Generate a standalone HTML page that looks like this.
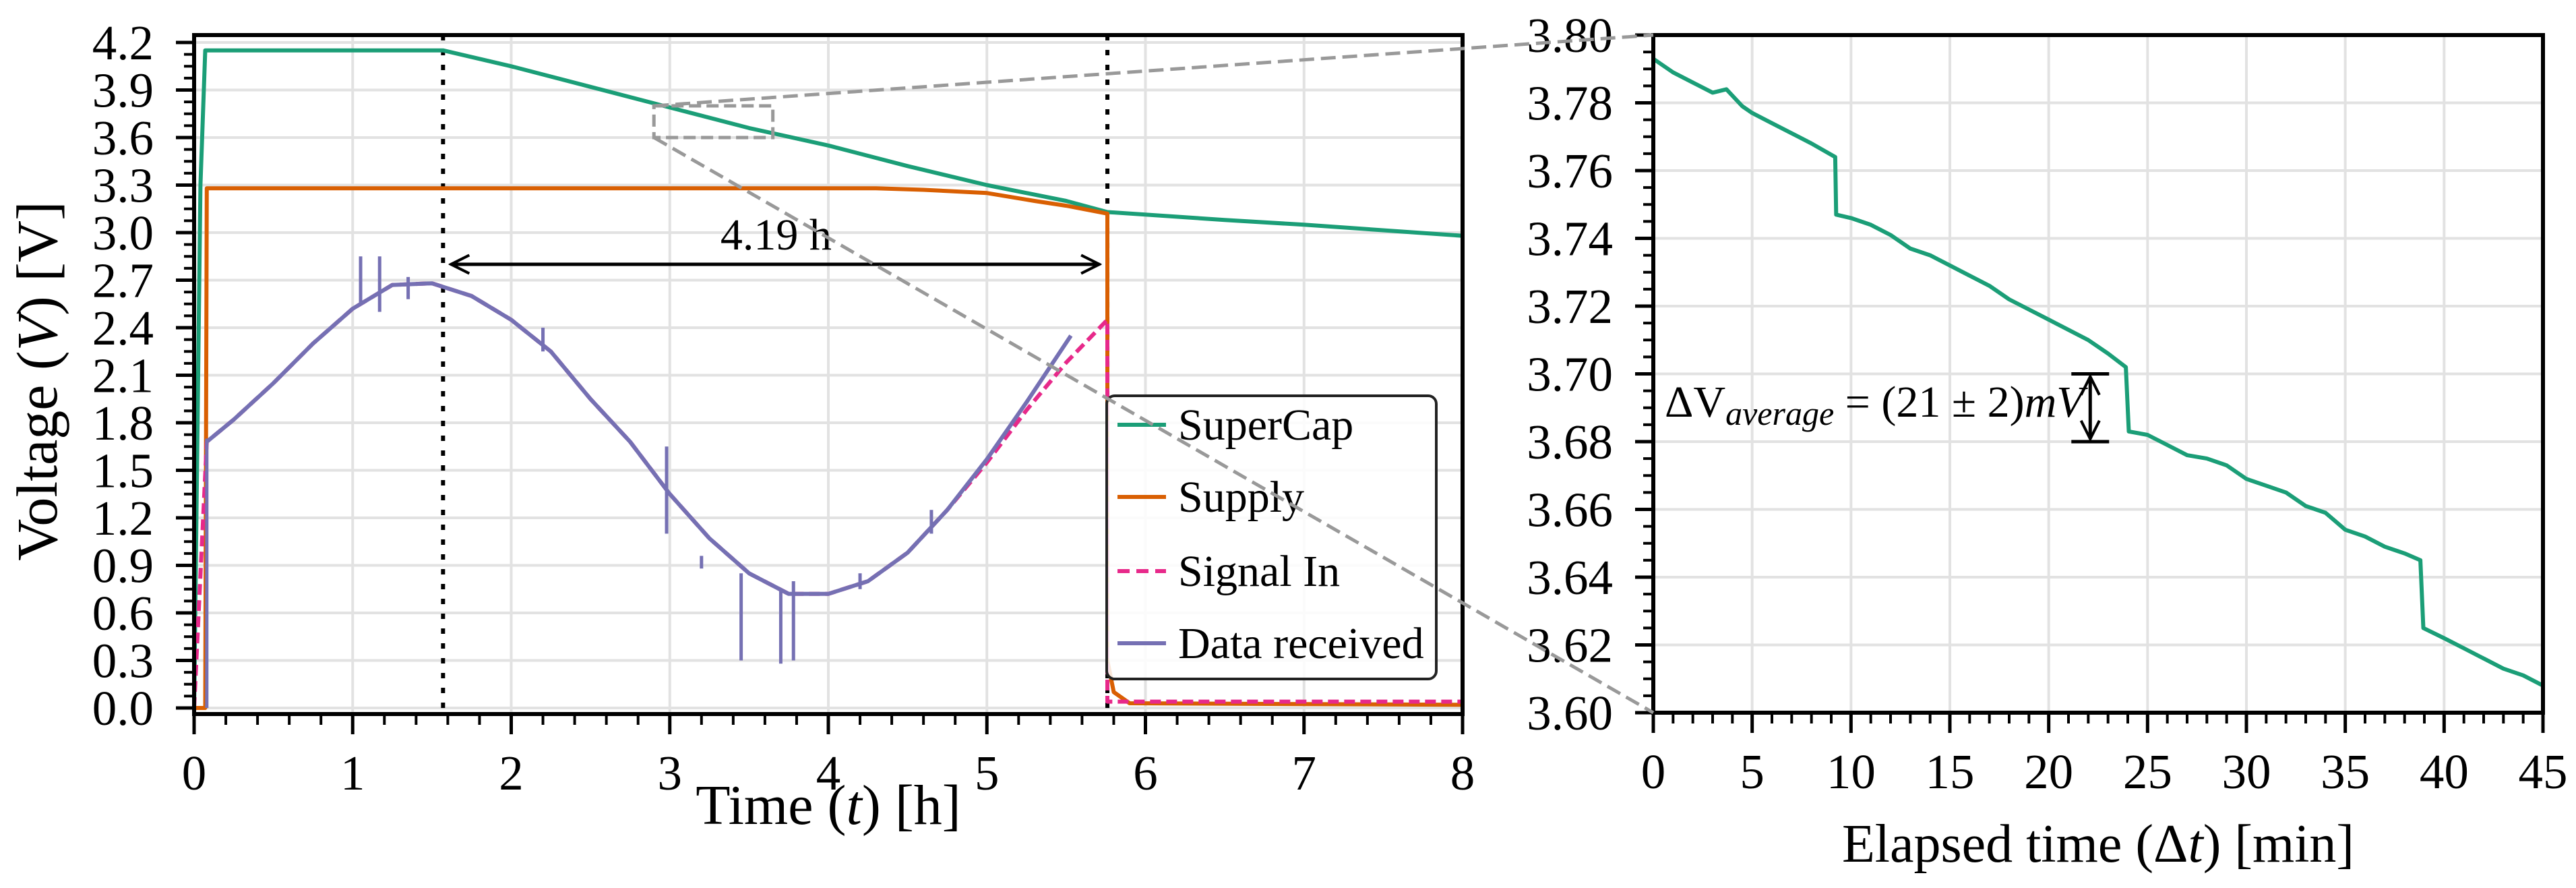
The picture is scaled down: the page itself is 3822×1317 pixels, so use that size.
<!DOCTYPE html>
<html><head><meta charset="utf-8"><style>
html,body{margin:0;padding:0;background:#fff}
svg{display:block;font-family:"Liberation Serif",serif}
</style></head><body>
<svg id="fig" width="3822" height="1317" viewBox="0 0 3822 1317" xmlns="http://www.w3.org/2000/svg">
<g id="left"></g>
<g id="right"></g>
</svg>
<script>
// ---- Left chart data ----
const leftXTicks = [0,1,2,3,4,5,6,7,8];
const leftYTicks = [0.0,0.3,0.6,0.9,1.2,1.5,1.8,2.1,2.4,2.7,3.0,3.3,3.6,3.9,4.2];
const superCapT = [0,0.04,0.07,1.57,2.0,2.5,3.0,3.5,4.0,4.5,5.0,5.5,5.76,6.5,7.0,8.0];
const superCapV = [0,3.3,4.15,4.15,4.05,3.92,3.79,3.66,3.55,3.42,3.30,3.20,3.13,3.08,3.05,2.98];
const supplyT = [0,0.07,0.08,4.3,4.6,5.0,5.3,5.5,5.76,5.76,5.8,5.9,8.0];
const supplyV = [0,0,3.28,3.28,3.27,3.25,3.20,3.17,3.12,0.3,0.1,0.03,0.02];
const signalT = [0,0.08,0.25,0.5,0.75,1.0,1.25,1.5,1.75,2.0,2.25,2.5,2.75,3.0,3.25,3.5,3.75,4.0,4.25,4.5,4.75,5.0,5.25,5.5,5.76,5.76,8.0];
const signalV = [0,1.68,1.82,2.05,2.30,2.52,2.67,2.68,2.60,2.45,2.25,1.95,1.68,1.35,1.07,0.85,0.72,0.72,0.80,0.98,1.25,1.55,1.88,2.18,2.45,0.04,0.04];
const dataT = [0.08,0.25,0.5,0.75,1.0,1.25,1.5,1.75,2.0,2.25,2.5,2.75,3.0,3.25,3.5,3.75,4.0,4.25,4.5,4.75,5.0,5.25,5.53];
const dataV = [1.68,1.82,2.05,2.30,2.52,2.67,2.68,2.60,2.45,2.25,1.95,1.68,1.35,1.07,0.85,0.72,0.72,0.80,0.98,1.25,1.57,1.93,2.35];
const spikeT = [0.08,1.05,1.17,1.35,2.2,2.98,3.2,3.45,3.7,3.78,4.2,4.65];
const spikeLo = [0.0,2.55,2.5,2.58,2.25,1.1,0.88,0.3,0.28,0.3,0.75,1.1];
const spikeHi = [1.7,2.85,2.85,2.72,2.4,1.65,0.96,0.85,0.75,0.8,0.85,1.25];
const markerT = [1.57,5.76];
const spanLabel = "4.19 h";
// ---- Right chart data ----
const rightXTicks = [0,5,10,15,20,25,30,35,40,45];
const rightYTicks = [3.60,3.62,3.64,3.66,3.68,3.70,3.72,3.74,3.76,3.78,3.80];
const zoomT = [0,1,2,3,3.7,4.5,5,6,7,8,9.2,9.25,10,11,12,13,14,15,16,17,18,19,20,21,22,23,23.9,24.05,25,26,27,28,29,30,31,32,33,34,35,36,37,38,38.8,38.95,40,41,42,43,44,45];
const zoomV = [3.793,3.789,3.786,3.783,3.784,3.779,3.777,3.774,3.771,3.768,3.764,3.747,3.746,3.744,3.741,3.737,3.735,3.732,3.729,3.726,3.722,3.719,3.716,3.713,3.710,3.706,3.702,3.683,3.682,3.679,3.676,3.675,3.673,3.669,3.667,3.665,3.661,3.659,3.654,3.652,3.649,3.647,3.645,3.625,3.622,3.619,3.616,3.613,3.611,3.608];

const NS="http://www.w3.org/2000/svg";
function mk(parent,tag,attrs,text){const e=document.createElementNS(NS,tag);for(const k in attrs)e.setAttribute(k,attrs[k]);if(text!==undefined)e.textContent=text;parent.appendChild(e);return e;}
const L=document.getElementById('left'), R=document.getElementById('right'), F=document.getElementById('fig');
const lx0=288,lx1=2170,lyTop=52,lyBot=1059;
const LX=t=>288+t*235.25, LY=v=>1050-v*235;
const rx0=2453,rx1=3773,ryTop=52,ryBot=1057;
const RX=m=>rx0+m*(rx1-rx0)/45, RY=v=>ryBot-(v-3.6)*(ryBot-ryTop)/0.2;

leftXTicks.forEach(t=>{const g=mk(L,'line',{x1:LX(t),x2:LX(t),y1:lyTop,y2:lyBot,stroke:'#e2e2e2','stroke-width':4});

});
leftYTicks.forEach(v=>{const g=mk(L,'line',{x1:lx0,x2:lx1,y1:LY(v),y2:LY(v),stroke:'#e2e2e2','stroke-width':4});

});
rightXTicks.forEach(t=>{const g=mk(R,'line',{x1:RX(t),x2:RX(t),y1:ryTop,y2:ryBot,stroke:'#e2e2e2','stroke-width':4});

});
rightYTicks.forEach(v=>{const g=mk(R,'line',{x1:rx0,x2:rx1,y1:RY(v),y2:RY(v),stroke:'#e2e2e2','stroke-width':4});

});

function poly(parent,T,V,fx,fy,color,name,dash){
  const pts=T.map((t,i)=>fx(t).toFixed(1)+','+fy(V[i]).toFixed(1)).join(' ');
  const p=mk(parent,'polyline',{points:pts,fill:'none',stroke:color,'stroke-width':6,'stroke-linejoin':'round'});
  if(dash)p.setAttribute('stroke-dasharray',dash);
  
  
  return p;
}
markerT.forEach(t=>{const m=mk(L,'line',{x1:LX(t),x2:LX(t),y1:lyTop,y2:lyBot,stroke:'#000','stroke-width':6,'stroke-dasharray':'8,14'});

});

poly(L,superCapT,superCapV,LX,LY,'#1b9e77','supercap-line');
poly(L,supplyT,supplyV,LX,LY,'#d95f02','supply-line');
poly(L,signalT,signalV,LX,LY,'#e7298a','signal-in-line','16,8');
poly(L,dataT,dataV,LX,LY,'#7570b3','data-received-line');
spikeT.forEach((t,i)=>{const s=mk(L,'line',{x1:LX(t),x2:LX(t),y1:LY(spikeLo[i]),y2:LY(spikeHi[i]),stroke:'#7570b3','stroke-width':5});

});

const defs=mk(F,'defs',{});
const mkA=mk(defs,'marker',{id:'ah',refX:9,refY:5,orient:'auto-start-reverse',markerUnits:'userSpaceOnUse',viewBox:'0 0 10 10'});
mkA.setAttribute('markerWidth',34);mkA.setAttribute('markerHeight',34);
mk(mkA,'path',{d:'M1,1 L9,5 L1,9',fill:'none',stroke:'#000','stroke-width':1.2});
const ar=mk(L,'line',{x1:LX(1.62),x2:LX(5.71),y1:LY(2.8),y2:LY(2.8),stroke:'#000','stroke-width':5,'marker-start':'url(#ah)','marker-end':'url(#ah)'});


const st=mk(L,'text',{x:LX(3.67),y:370,'font-size':66,'text-anchor':'middle'},spanLabel);



const ib=mk(L,'rect',{x:LX(2.9),y:LY(3.8),width:LX(3.65)-LX(2.9),height:LY(3.6)-LY(3.8),fill:'none',stroke:'#999','stroke-width':5,'stroke-dasharray':'18,8'});


const c1=mk(F,'line',{x1:LX(2.9),y1:LY(3.8),x2:rx0,y2:ryTop,stroke:'#999','stroke-width':5,'stroke-dasharray':'22,10'});


const c2=mk(F,'line',{x1:LX(2.9),y1:LY(3.6),x2:rx0,y2:ryBot,stroke:'#999','stroke-width':5,'stroke-dasharray':'22,10'});



poly(R,zoomT,zoomV,RX,RY,'#1b9e77','supercap-zoom-line');
const ax=RX(22.1);
[[3.70],[3.68]].forEach(v=>{const c=mk(R,'line',{x1:ax-28,x2:ax+28,y1:RY(v[0]),y2:RY(v[0]),stroke:'#000','stroke-width':5});

});
const da=mk(R,'line',{x1:ax,x2:ax,y1:RY(3.70)+4,y2:RY(3.68)-4,stroke:'#000','stroke-width':5,'marker-start':'url(#ah)','marker-end':'url(#ah)'});


const dt=mk(R,'text',{x:2470,y:618,'font-size':66});


dt.innerHTML='ΔV<tspan font-style="italic" font-size="50" dy="12">average</tspan><tspan dy="-12"> = (21 ± 2)</tspan><tspan font-style="italic">mV</tspan>';

function axes(P,x0,x1,y0,y1,xt,yt,fx,fy,xminor,yminor,xfmt,yfmt){
  const sp=mk(P,'rect',{x:x0,y:y0,width:x1-x0,height:y1-y0,fill:'none',stroke:'#000','stroke-width':6});
  
  
  xt.forEach(t=>{mk(P,'line',{x1:fx(t),x2:fx(t),y1:y1,y2:y1+30,stroke:'#000','stroke-width':5});
    const l=mk(P,'text',{x:fx(t),y:y1+112,'font-size':73,'text-anchor':'middle'},xfmt(t));
    
    });
  yt.forEach(v=>{mk(P,'line',{x1:x0-27,x2:x0,y1:fy(v),y2:fy(v),stroke:'#000','stroke-width':5});
    const l=mk(P,'text',{x:x0-60,y:fy(v)+25,'font-size':73,'text-anchor':'end'},yfmt(v));
    
    });
  for(let i=0;i<xt.length-1;i++)for(let k=1;k<xminor;k++){const t=xt[i]+(xt[i+1]-xt[i])*k/xminor;
    mk(P,'line',{x1:fx(t),x2:fx(t),y1:y1,y2:y1+16,stroke:'#000','stroke-width':4});}
  for(let i=0;i<yt.length-1;i++)for(let k=1;k<yminor;k++){const v=yt[i]+(yt[i+1]-yt[i])*k/yminor;
    mk(P,'line',{x1:x0-15,x2:x0,y1:fy(v),y2:fy(v),stroke:'#000','stroke-width':4});}
}
axes(L,lx0,lx1,lyTop,lyBot,leftXTicks,leftYTicks,LX,LY,5,4,t=>String(t),v=>v.toFixed(1));
axes(R,rx0,rx1,ryTop,ryBot,rightXTicks,rightYTicks,RX,RY,5,4,t=>String(t),v=>v.toFixed(2));

const xl=mk(L,'text',{x:(lx0+lx1)/2,y:1222,'font-size':84,'text-anchor':'middle'});


xl.innerHTML='Time (<tspan font-style="italic">t</tspan>) [h]';
const yl=mk(L,'text',{x:0,y:0,'font-size':86,'text-anchor':'middle',transform:'translate(84,565) rotate(-90)'});


yl.innerHTML='Voltage (<tspan font-style="italic">V</tspan>) [V]';
const xr=mk(R,'text',{x:(rx0+rx1)/2,y:1278,'font-size':80,'text-anchor':'middle'});


xr.innerHTML='Elapsed time (Δ<tspan font-style="italic">t</tspan>) [min]';

const lg=mk(L,'g',{});


mk(lg,'rect',{x:1642,y:587,width:489,height:420,rx:12,fill:'#fff','fill-opacity':0.85,stroke:'#222','stroke-width':4});
const legNames=['SuperCap','Supply','Signal In','Data received'];
const legColors=['#1b9e77','#d95f02','#e7298a','#7570b3'];
const legY=[630,737,847,954];
legNames.forEach((n,i)=>{
  const e=mk(lg,'g',{});
  
  
  const h=mk(e,'line',{x1:1658,x2:1730,y1:legY[i],y2:legY[i],stroke:legColors[i],'stroke-width':6});
  if(i===2)h.setAttribute('stroke-dasharray','18,10');
  mk(e,'text',{x:1748,y:legY[i]+22,'font-size':66},n);
});
</script>
</body></html>
